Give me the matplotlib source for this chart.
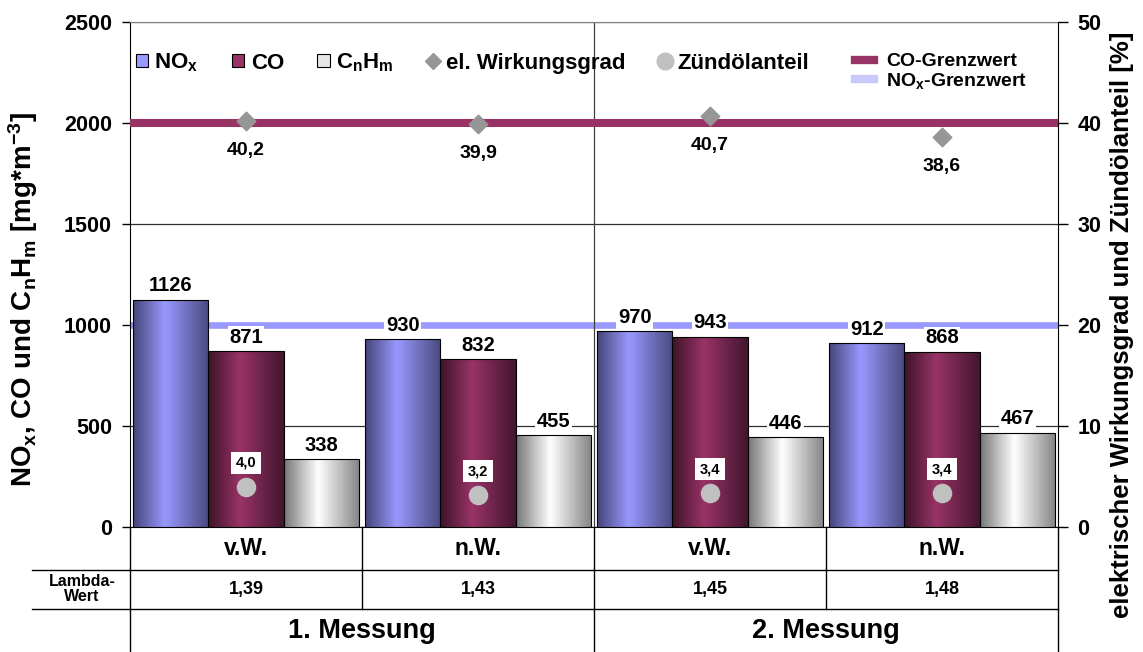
import matplotlib
matplotlib.use('Agg')
import matplotlib.pyplot as plt
import matplotlib.transforms as mtransforms
from matplotlib.colors import LinearSegmentedColormap
from matplotlib.patches import Patch
from matplotlib.lines import Line2D
import numpy as np

# Schrift: Arial-ähnlich, alles fett
plt.rcParams['font.family'] = ['Liberation Sans', 'DejaVu Sans']
plt.rcParams['font.weight'] = 'bold'
plt.rcParams['mathtext.fontset'] = 'custom'
plt.rcParams['mathtext.rm'] = 'Liberation Sans:bold'
plt.rcParams['mathtext.it'] = 'Liberation Sans:bold'
plt.rcParams['mathtext.bf'] = 'Liberation Sans:bold'
plt.rcParams['mathtext.sf'] = 'Liberation Sans:bold'
plt.rcParams['mathtext.default'] = 'rm'

# Daten
kategorien = ['v.W.', 'n.W.', 'v.W.', 'n.W.']
lambda_werte = ['1,39', '1,43', '1,45', '1,48']
messungen = ['1. Messung', '2. Messung']
nox = [1126, 930, 970, 912]
co = [871, 832, 943, 868]
cnhm = [338, 455, 446, 467]
wirkungsgrad = [40.2, 39.9, 40.7, 38.6]
zuendoel = [4.0, 3.2, 3.4, 3.4]
co_grenzwert = 2000
nox_grenzwert = 1000

# Farben (dunkel am Rand, hell in der Mitte)
verlauf = {
    'nox': [(0, '#45457a'), (0.42, '#9999ff'), (1, '#4a4a82')],
    'co': [(0, '#3e1428'), (0.42, '#993366'), (1, '#43162f')],
    'cnhm': [(0, '#787878'), (0.45, '#ffffff'), (1, '#858585')],
}
farbe_co_linie = '#993366'
farbe_nox_linie = '#9999ff'

fig = plt.figure(figsize=(11.43, 6.52), dpi=100)
ax = fig.add_axes([130 / 1143, 125 / 652, 928 / 1143, 505 / 652])


def verlauf_balken(ax, x, h, w, stops):
    b = ax.bar(x, h, w, color='none', edgecolor='black', lw=0.8, zorder=3)[0]
    cmap = LinearSegmentedColormap.from_list('v', stops)
    t = np.linspace(0, 1, 100).reshape(1, -1)
    im = ax.imshow(t, cmap=cmap, extent=[x - w / 2, x + w / 2, 0, h],
                   aspect='auto', zorder=2.9, interpolation='bilinear')
    im.set_clip_path(b)
    return b


x = np.arange(len(kategorien))
bw = 0.325
serien = [(nox, 'nox', -bw), (co, 'co', 0), (cnhm, 'cnhm', bw)]
for werte, key, off in serien:
    for xi, v in zip(x, werte):
        verlauf_balken(ax, xi + off, v, bw, verlauf[key])
        ax.annotate(str(v), (xi + off, v), xytext=(0, 3), textcoords='offset points',
                    ha='center', va='bottom', fontsize=14.5, fontweight='bold', zorder=6,
                    bbox=dict(boxstyle='square,pad=0.08', fc='white', ec='none'))

# Grenzwerte
ax.axhline(nox_grenzwert, color=farbe_nox_linie, lw=4.8, zorder=1.5)
ax.axhline(co_grenzwert, color=farbe_co_linie, lw=5.8, zorder=4)
ax.axvline(1.5, color='#404040', lw=0.9, zorder=1.8)

ax.set_xlim(-0.5, 3.5)
ax.set_ylim(0, 2500)
ax.set_yticks(np.arange(0, 2501, 500))
ax.set_xticks([])
ax.yaxis.grid(True, color='#303030', lw=0.9)
ax.set_axisbelow(True)
ax.tick_params(axis='y', direction='out', length=6, width=1, pad=7, labelsize=15.5)
for s in ['left', 'bottom']:
    ax.spines[s].set_color('black')
ax.spines['top'].set_color('#808080')
ax.spines['right'].set_visible(False)
ax.set_ylabel(r'NO$_x$, CO und C$_n$H$_m$ [mg*m$^{-3}$]', fontsize=20, fontweight='bold')
ax.yaxis.set_label_coords(-0.097, 0.45)

# rechte Achse
ax2 = ax.twinx()
ax2.set_ylim(0, 50)
ax2.set_yticks(np.arange(0, 51, 10))
ax2.tick_params(axis='y', direction='out', length=7, width=1, pad=7, labelsize=15.5)
ax2.spines['right'].set_color('black')
for s in ['left', 'top', 'bottom']:
    ax2.spines[s].set_visible(False)
ax2.set_ylabel('elektrischer Wirkungsgrad und Zündölanteil [%]', fontsize=18.5, fontweight='bold')
ax2.yaxis.set_label_coords(1.056, 0.4)

ax2.scatter(x, wirkungsgrad, marker='D', s=90, color='#969696', zorder=5)
ax2.scatter(x, zuendoel, marker='o', s=170, color='#c0c0c0', zorder=5)
for xi, v in zip(x, wirkungsgrad):
    ax2.annotate(f'{v:.1f}'.replace('.', ','), (xi, v), xytext=(0, -21),
                 textcoords='offset points', ha='center', va='center',
                 fontsize=14, fontweight='bold')
for xi, v in zip(x, zuendoel):
    ax2.annotate(f'{v:.1f}'.replace('.', ','), (xi, v), xytext=(0, 17),
                 textcoords='offset points', ha='center', va='center',
                 fontsize=10.5, fontweight='bold',
                 bbox=dict(boxstyle='square,pad=0.3', fc='white', ec='none'))

# Legenden
h1 = [Patch(facecolor='#9999ff', edgecolor='black', lw=0.8),
      Patch(facecolor='#993366', edgecolor='black', lw=0.8),
      Patch(facecolor='#e6e6e6', edgecolor='black', lw=0.8),
      Line2D([], [], ls='none', marker='D', ms=8, color='#969696'),
      Line2D([], [], ls='none', marker='o', ms=12, color='#c0c0c0')]
l1 = ['NO$_x$', 'CO', 'C$_n$H$_m$', 'el. Wirkungsgrad', 'Zündölanteil']
leg1 = ax2.legend(h1, l1, loc='center left', bbox_to_anchor=(0.006, 0.919), ncol=5,
                  frameon=False, fontsize=16, handlelength=0.55, handleheight=0.5,
                  handletextpad=0.3, columnspacing=1.5, borderpad=0, borderaxespad=0)
ax2.add_artist(leg1)
h2 = [Line2D([], [], color=farbe_co_linie, lw=6),
      Line2D([], [], color='#c8c8fa', lw=6)]
l2 = ['CO-Grenzwert', 'NO$_x$-Grenzwert']
ax2.legend(h2, l2, loc='center left', bbox_to_anchor=(0.781, 0.901), frameon=False,
           fontsize=14, handlelength=1.0, handletextpad=0.6, labelspacing=0.05,
           borderpad=0, borderaxespad=0)

# Tabelle unter der Achse
tr = mtransforms.blended_transform_factory(ax.transData, ax.transAxes)
y1, y2, y3 = -0.085, -0.162, -0.2475
kw = dict(color='black', lw=1, clip_on=False, zorder=5)
for yy in (y1, y2):
    ax.plot([-0.1056, 1.0], [yy, yy], transform=ax.transAxes, **kw)
for xx in (0.5, 2.5):
    ax.plot([xx, xx], [0, y2], transform=tr, **kw)
for xx in (-0.5, 1.5, 3.5):
    ax.plot([xx, xx], [0, y3], transform=tr, **kw)

for xi, k, lw_ in zip(x, kategorien, lambda_werte):
    ax.text(xi, (0 + y1) / 2, k, transform=tr, ha='center', va='center',
            fontsize=16.5, fontweight='bold')
    ax.text(xi, (y1 + y2) / 2, lw_, transform=tr, ha='center', va='center',
            fontsize=13, fontweight='bold')
for i, m in enumerate(messungen):
    ax.text(0.5 + 2 * i, (y2 + y3) / 2 - 0.002, m, transform=tr, ha='center', va='center',
            fontsize=19.5, fontweight='bold')
ax.text(-0.0517, (y1 + y2) / 2, 'Lambda-\nWert', transform=ax.transAxes, ha='center',
        va='center', fontsize=11.5, fontweight='bold', linespacing=1.0)

fig.savefig('out.png', dpi=100)
